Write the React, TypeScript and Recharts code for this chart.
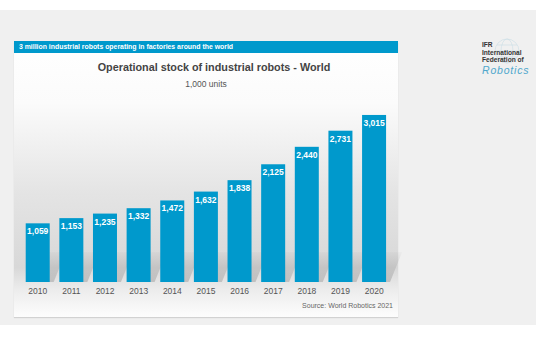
import React from 'react';
import { BarChart, Bar, XAxis, YAxis, LabelList } from 'recharts';

const years = ['2010', '2011', '2012', '2013', '2014', '2015', '2016', '2017', '2018', '2019', '2020'];
const stock = [1059, 1153, 1235, 1332, 1472, 1632, 1838, 2125, 2440, 2731, 3015];

const data = years.map((year, i) => ({ year, value: stock[i] }));

const BLUE = '#0099cc';
const FONT = '"Liberation Sans", Arial, sans-serif';

// bar with a soft diagonal shadow behind it
const ShadowBar = (props: any) => {
  const { x, y, width, height } = props;
  const base = y + height;
  const sh = Math.min(30, height);
  const pts = [
    [x + 2, base],
    [x + width + 4, base],
    [x + width + 16, base - sh],
    [x + 14, base - sh],
  ]
    .map((p) => p.join(','))
    .join(' ');
  return (
    <g>
      <polygon points={pts} fill="url(#shadowGrad)" />
      <rect x={x} y={y} width={width} height={height} fill={BLUE} />
    </g>
  );
};

const fmt = (v: any) => Number(v).toLocaleString('en-US');

export default function App() {
  return (
    <div
      style={{
        position: 'absolute',
        left: 0,
        top: 0,
        width: 536,
        height: 357,
        background: '#fff',
        fontFamily: FONT,
        overflow: 'hidden',
      }}
    >
      {/* gray slide area */}
      <div style={{ position: 'absolute', left: 0, top: 10, width: 536, height: 315, background: '#f0f0f0' }} />

      {/* card */}
      <div
        style={{
          position: 'absolute',
          left: 14,
          top: 42,
          width: 384,
          height: 275,
          background:
            'linear-gradient(to bottom, #ffffff 0%, #fbfbfb 22%, #e4e4e4 55%, #d8d8d8 82%, #ececec 90%, #fdfdfd 100%)',
          boxShadow: '0 1px 1px rgba(0,0,0,0.12)',
        }}
      />
      <div
        style={{
          position: 'absolute',
          left: 14,
          top: 41,
          width: 384,
          height: 12,
          background: BLUE,
          color: '#fff',
          fontSize: 6.9,
          fontWeight: 'bold',
          lineHeight: '12px',
          paddingLeft: 5,
          boxSizing: 'border-box',
        }}
      >
        3 million industrial robots operating in factories around the world
      </div>
      <div
        style={{
          position: 'absolute',
          left: 22,
          width: 384,
          top: 61,
          textAlign: 'center',
          fontSize: 10.8,
          fontWeight: 'bold',
          color: '#444',
        }}
      >
        Operational stock of industrial robots - World
      </div>
      <div
        style={{
          position: 'absolute',
          left: 14,
          width: 384,
          top: 79,
          textAlign: 'center',
          fontSize: 8.5,
          color: '#555',
        }}
      >
        1,000 units
      </div>
      <div
        style={{
          position: 'absolute',
          right: 536 - 393,
          top: 302,
          fontSize: 7,
          color: '#666',
        }}
      >
        Source: World Robotics 2021
      </div>

      {/* logo */}
      <svg style={{ position: 'absolute', left: 492, top: 36 }} width={30} height={30}>
        <g fill="none" stroke="#c9dde6" strokeWidth={0.6}>
          <circle cx={15} cy={15} r={12} />
          <ellipse cx={15} cy={15} rx={6} ry={12} />
          <line x1={3} y1={15} x2={27} y2={15} />
          <line x1={5} y1={9} x2={25} y2={9} />
          <line x1={5} y1={21} x2={25} y2={21} />
        </g>
      </svg>
      <div style={{ position: 'absolute', left: 482, top: 41, fontSize: 6.6, fontWeight: 'bold', color: '#333', lineHeight: '7.5px' }}>
        <div>IFR</div>
        <div>International</div>
        <div>Federation of</div>
        <div style={{ fontStyle: 'italic', fontWeight: 'normal', color: '#4fa7cc', fontSize: 10.5, lineHeight: '12px', letterSpacing: 0.8 }}>
          Robotics
        </div>
      </div>

      <div style={{ position: 'absolute', left: 0, top: 0 }}>
        <BarChart
          width={536}
          height={357}
          data={data}
          margin={{ top: 100, right: 145, bottom: 55, left: 21 }}
          barCategoryGap="14%"
        >
          <defs>
            <linearGradient id="shadowGrad" x1="0" y1="1" x2="0" y2="0">
              <stop offset="0%" stopColor="#000" stopOpacity={0.16} />
              <stop offset="100%" stopColor="#000" stopOpacity={0.02} />
            </linearGradient>
          </defs>
          <XAxis
            dataKey="year"
            axisLine={false}
            tickLine={false}
            tickSize={0}
            tickMargin={6}
            height={20}
            interval={0}
            tick={{ fill: '#555', fontSize: 8.5, fontFamily: FONT }}
          />
          <YAxis hide domain={[0, 3285]} />
          <Bar dataKey="value" shape={<ShadowBar />} isAnimationActive={false}>
            <LabelList
              dataKey="value"
              position="insideTop"
              offset={5}
              formatter={fmt}
              fill="#fff"
              fontSize={8.5}
              fontWeight="bold"
              fontFamily={FONT}
            />
          </Bar>
        </BarChart>
      </div>
    </div>
  );
}
